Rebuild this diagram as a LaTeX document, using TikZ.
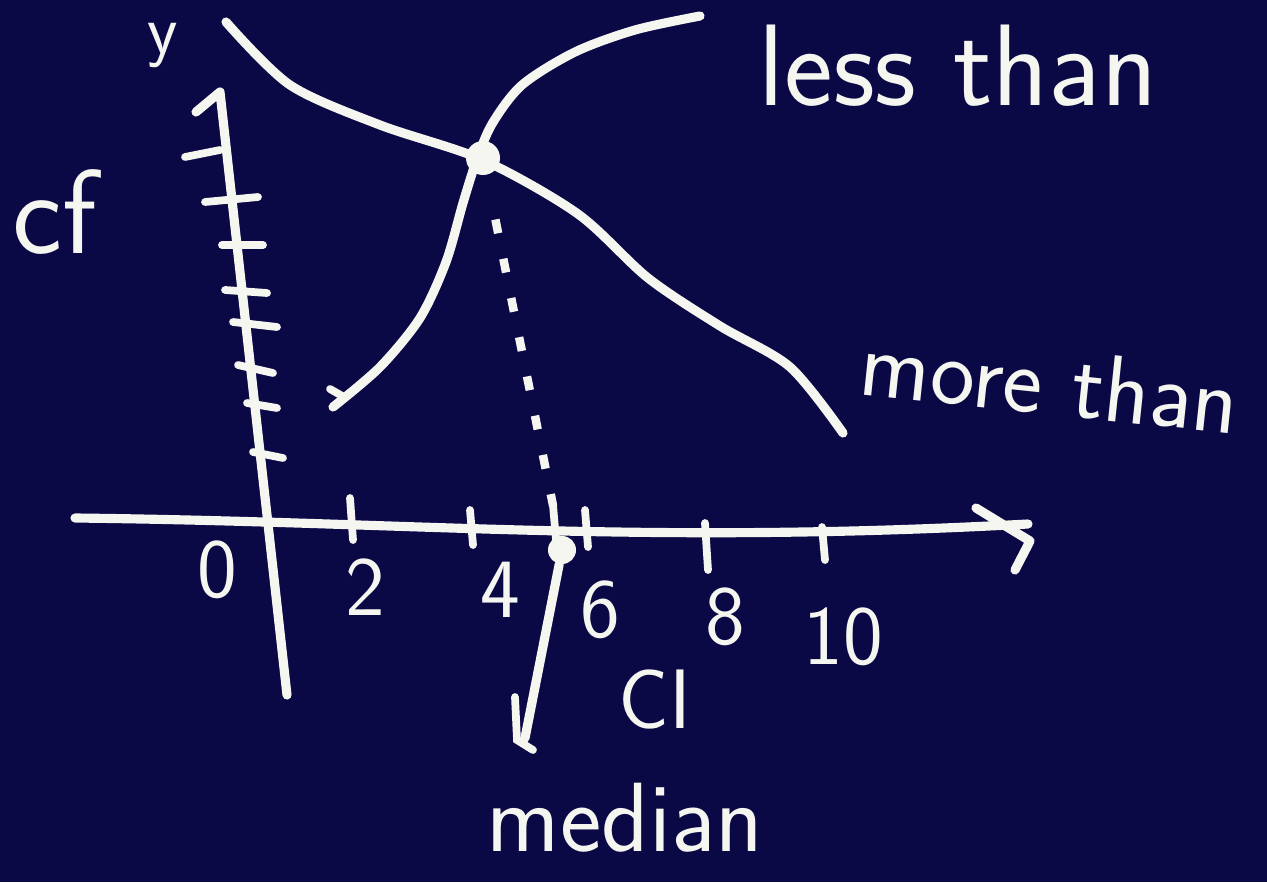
\documentclass[tikz,border=0pt]{standalone}
\usepackage{tikz}
\usetikzlibrary{arrows.meta,positioning,calc}
\definecolor{boardblue}{RGB}{11,8,70}
\definecolor{chalk}{RGB}{246,246,240}

\begin{document}
\begin{tikzpicture}[x=0.01cm,y=-0.01cm,
    stroke/.style={draw=chalk, line width=2.6pt, line cap=round, line join=round},
    thinstroke/.style={draw=chalk, line width=2.2pt, line cap=round},
    dotline/.style={draw=chalk, line width=2.4pt, dash pattern=on 1.4mm off 2.6mm},
    dot/.style={circle, fill=chalk, inner sep=0pt, minimum size=#1},
    lbl/.style={text=chalk, inner sep=0pt, font=\sffamily\fontsize{32}{34}\selectfont},
    num/.style={text=chalk, inner sep=0pt, font=\sffamily\fontsize{24}{26}\selectfont}]
        \useasboundingbox (0,0) rectangle (1267,882);
        \fill[boardblue] (0,0) rectangle (1267,882);
        % axes
        \coordinate (ytop) at (220,92);
        \coordinate (ybot) at (287,695);
        \coordinate (xleft) at (75,518);
        \coordinate (xend) at (1028,524);
        \draw[stroke] (ybot) -- (ytop) -- ++(-24,20);
        \draw[stroke] (xleft) .. controls (420,522) and (640,545) .. (xend);
        \draw[stroke] ($(xend)+(-52,-16)$) -- ($(xend)+(2,17)$) -- ($(xend)+(-13,46)$);
        % ticks
        \foreach \x/\a/\b in {350/498/540, 470/510/545, 553/505/540, 585/510/547, 705/523/570, 822/527/560}
            \draw[thinstroke] (\x,\a) -- (\x+3,\b);
        \foreach \a/\p/\b/\q in {185/157/220/150, 205/202/258/197, 222/245/263/245, 225/290/267/293,
                                 233/322/277/327, 238/365/273/373, 247/403/277/408, 253/452/283/458}
            \draw[thinstroke] (\a,\p) -- (\b,\q);
        % ogives
        \draw[stroke] plot[smooth] coordinates {(333,407) (380,367) (420,318) (446,262) (463,203)
            (476,162) (492,124) (522,85) (575,52) (635,30) (700,16)};
        \draw[thinstroke] (330,389) -- (344,397);
        \draw[stroke] plot[smooth] coordinates {(226,22) (290,85) (380,125) (483,160) (578,214)
            (648,278) (720,326) (790,367) (843,433)};
        % median
        \node[dot=3.4mm] (mid) at (483,158) {};
        \node[dot=2.8mm] (med) at (562,550) {};
        \draw[dotline, shorten <=4.5mm, shorten >=3mm] (mid) -- (med);
        \coordinate (medtip) at (525,738);
        \draw[stroke] (med) -- (medtip);
        \draw[thinstroke] ([shift={(-10,-41)}]medtip) -- ([shift={(-8,2)}]medtip) -- ([shift={(8,12)}]medtip);
        % labels
        \node[lbl, font=\sffamily\fontsize{33}{35}\selectfont] (lessthan) at (958,66) {less than};
        \node[lbl, rotate=-6, font=\sffamily\fontsize{27}{29}\selectfont] (morethan) at (1050,382) {more than};
        \node[lbl, font=\sffamily\fontsize{28}{30}\selectfont] (median) at (625,818) {median};
        \node[lbl, font=\sffamily\fontsize{34}{36}\selectfont] (cf) at (55,212) {cf};
        \node[num, font=\sffamily\fontsize{20}{22}\selectfont] (ylab) at (163,46) {y};
        \node[num] (ci) at (655,700) {CI};
        \foreach \t/\x/\y in {0/217/570, 2/365/587, 4/500/590, 6/600/610, 8/725/617, 10/843/637}
            \node[num] (n\t) at (\x,\y) {\t};
    \end{tikzpicture}
\end{document}
